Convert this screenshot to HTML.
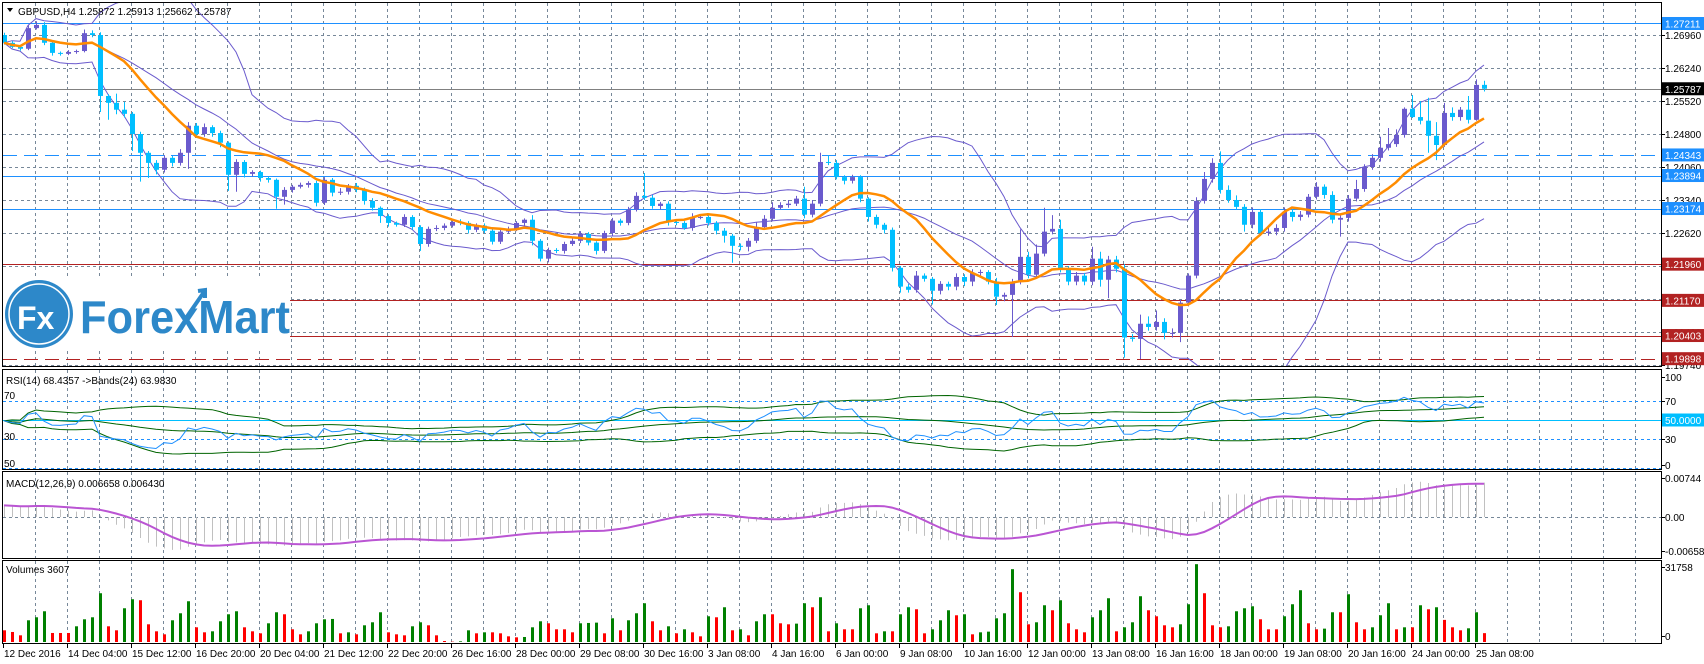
<!DOCTYPE html>
<html><head><meta charset="utf-8"><title>GBPUSD H4</title>
<style>
html,body{margin:0;padding:0;background:#fff;}
svg{display:block;font-family:"Liberation Sans",sans-serif;}
text{font-size:10px;fill:#000;}
</style></head>
<body>
<svg id="chart" xmlns="http://www.w3.org/2000/svg" width="1704" height="664" viewBox="0 0 1704 664">
<defs>
<clipPath id="clipMain"><rect x="3" y="3" width="1658" height="363"/></clipPath>
<clipPath id="clipRsi"><rect x="3" y="370" width="1658" height="99"/></clipPath>
<clipPath id="clipMacd"><rect x="3" y="472" width="1658" height="86"/></clipPath>
<clipPath id="clipVol"><rect x="3" y="561" width="1658" height="82"/></clipPath>
</defs>
</svg>
<script>
const closes=[
1.2679,1.2670,1.2666,1.2711,1.2718,1.2679,1.2657,1.2655,1.2659,1.2661,
1.2700,1.2696,1.2563,1.2548,1.2533,1.2524,1.2480,1.2439,1.2417,1.2402,
1.2428,1.2417,1.2439,1.2498,1.2480,1.2495,1.2482,1.2461,1.2391,1.2419,
1.2393,1.2397,1.2384,1.2380,1.2343,1.2358,1.2365,1.2369,1.2373,1.2330,
1.2380,1.2352,1.2354,1.2367,1.2358,1.2334,1.2319,1.2301,1.2286,1.2282,
1.2299,1.2277,1.2240,1.2273,1.2275,1.2280,1.2288,1.2286,1.2271,1.2280,
1.2269,1.2245,1.2267,1.2273,1.2286,1.2293,1.2247,1.2208,1.2227,1.2225,
1.2240,1.2247,1.2262,1.2243,1.2225,1.2264,1.2291,1.2286,1.2315,1.2345,
1.2341,1.2323,1.2328,1.2288,1.2286,1.2275,1.2299,1.2299,1.2286,1.2269,
1.2258,1.2236,1.2234,1.2247,1.2277,1.2295,1.2319,1.2325,1.2328,1.2339,
1.2304,1.2328,1.2419,1.2417,1.2386,1.2378,1.2386,1.2339,1.2299,1.2282,
1.2271,1.2188,1.2147,1.2140,1.2171,1.2164,1.2138,1.2153,1.2147,1.2168,
1.2158,1.2177,1.2179,1.2158,1.2125,1.2129,1.2158,1.2212,1.2173,1.2219,
1.2267,1.2273,1.2186,1.2158,1.2171,1.2158,1.2208,1.2162,1.2206,1.2186,
1.2036,1.2033,1.2066,1.2059,1.2070,1.2046,1.2046,1.2112,1.2171,1.2334,
1.2382,1.2417,1.2358,1.2336,1.2321,1.2282,1.2310,1.2264,1.2267,1.2275,
1.2310,1.2299,1.2304,1.2343,1.2365,1.2347,1.2293,1.2297,1.2339,1.2360,
1.2408,1.2428,1.2450,1.2458,1.2478,1.2535,1.2517,1.2509,1.2476,1.2456,
1.2526,1.2517,1.2533,1.2511,1.25872,1.25787];
const firstOpen=1.2696;
const wickUp=[
5,4,3,6,8,6,4,3,4,3,8,6,
6,4,20,17,4,5,4,6,
6,4,8,8,6,8,4,5,3,6,
4,4,3,3,3,6,4,5,4,5,
6,4,8,4,6,5,6,3,4,3,
6,4,4,5,6,5,5,6,4,5,
5,3,4,5,4,3,10,4,5,4,
5,8,6,4,3,5,6,4,6,8,
50,6,4,5,6,4,8,6,5,4,
6,4,5,6,10,8,12,6,8,6,
26,8,20,14,6,4,5,4,3,5,
4,5,4,6,10,5,4,6,5,8,
6,8,5,4,8,5,6,60,11,20,
52,30,20,6,8,6,26,15,8,8,
10,8,20,16,25,8,10,6,5,8,
15,10,25,10,10,6,10,6,10,8,
10,5,8,6,10,5,8,6,8,20,
6,8,24,35,12,3,30,35,50,30,
22,12,6,30,12,9];
const wickDn=[
4,3,4,3,3,5,6,4,3,4,3,5,
35,37,10,8,37,63,33,10,
6,8,6,35,8,6,8,10,35,37,
8,6,8,6,26,17,6,4,6,8,
5,8,5,6,5,8,6,15,8,4,
5,6,15,6,5,5,4,5,8,5,
5,6,5,4,5,6,10,6,8,5,
6,4,5,6,8,5,6,6,5,4,
5,6,8,8,5,4,6,5,6,8,
15,37,8,10,5,6,5,4,6,5,
8,6,6,5,5,8,6,8,10,8,
8,8,13,6,6,6,30,8,8,8,
10,10,6,6,18,10,92,6,8,8,
6,6,8,8,8,8,8,15,40,8,
44,6,44,8,8,14,10,20,8,6,
6,8,8,6,6,15,8,6,6,8,
8,10,8,6,6,8,8,37,8,6,
6,6,8,6,6,6,2,8,37,33,
4,8,8,8,2,6];
const volumes=[
4760,4080,2720,8840,10064,12512,3672,3672,3672,6392,
9248,10064,19856,6392,4760,13736,17408,17000,7208,4352,
3128,8840,11696,16592,5984,3944,4352,8432,11288,12512,
5984,4352,3536,7616,12104,11288,5168,3128,4352,7616,
9248,9384,3536,3944,3128,6800,8024,12104,3944,3128,
2720,6392,8024,6800,2720,408,136,272,4760,3536,
3944,3944,3536,2312,1904,2040,5984,8432,7616,5168,
5168,3944,7616,7752,7888,3536,9656,4760,8840,11696,
15776,8432,4760,6392,3536,5168,3944,2312,10472,10064,
14144,4760,5168,2720,8432,11288,11288,7616,7208,7480,
15776,14144,18224,4352,7616,5168,5168,13736,14960,3536,
4352,4352,11288,14144,13328,3536,5168,8840,12920,10880,
11288,3128,3944,4216,9656,11696,29648,20264,7208,8024,
14960,12920,17000,7616,5168,3944,10064,12920,17816,4352,
5984,8024,18632,12920,10472,6800,5984,7208,15368,31688,
19856,6800,5984,6392,12512,13736,14552,9248,5168,5168,
10472,15368,21080,7616,5168,5440,12104,12104,19448,8024,
5168,5984,10880,15776,5168,5984,5984,14960,13328,14144,
9000,5984,4760,5576,12104,3607];
const timeLabels=["12 Dec 2016","14 Dec 04:00","15 Dec 12:00","16 Dec 20:00","20 Dec 04:00","21 Dec 12:00","22 Dec 20:00","26 Dec 16:00","28 Dec 00:00","29 Dec 08:00","30 Dec 16:00","3 Jan 08:00","4 Jan 16:00","6 Jan 00:00","9 Jan 08:00","10 Jan 16:00","12 Jan 00:00","13 Jan 08:00","16 Jan 16:00","18 Jan 00:00","19 Jan 08:00","20 Jan 16:00","24 Jan 00:00","25 Jan 08:00"];
const priceTicks=[1.2696,1.2624,1.2552,1.2480,1.2408,1.2336,1.2264,1.2192,1.2120,1.2048,1.1976];
const priceTickLabels=["1.26960","1.26240","1.25520","1.24800","1.24060","1.23340","1.22620","1.21900","1.21180","1.20460","1.19740"];
const levelPrices=[1.27211,1.25787,1.24343,1.23894,1.23174,1.21960,1.21170,1.20403,1.19898];
const levelLabels=["1.27211","1.25787","1.24343","1.23894","1.23174","1.21960","1.21170","1.20403","1.19898"];
const levelKinds=["blue","black","bluedash","blue","blue","red","red","red","reddash"];
const rsiTicks=[100,70,50,30,0];
const macdTicks=[0.00744,0,-0.006582];
const macdTickLabels=["0.00744","0.00","-0.006582"];
const volTicks=[31758,0];

const NS="http://www.w3.org/2000/svg";
const svg=document.getElementById('chart');
function mk(tag,attrs,parent){const e=document.createElementNS(NS,tag);for(const k in attrs)e.setAttribute(k,attrs[k]);(parent||svg).appendChild(e);return e;}
function grp(clip){const g=mk('g',clip?{'clip-path':'url(#'+clip+')'}:{});return g;}

const X0=3,STEP=8,AXX=1661;
const xb=i=>X0+STEP*i+1;
const py=p=>35+(1.2696-p)/0.0072*33;
const ry=v=>420-(v-50)*0.95;
const my=v=>517-v*5200;
const vy=v=>642-v/31758*78;
const n=closes.length;
const opens=closes.map((c,i)=>i===0?firstOpen:closes[i-1]);
const PIP=0.0001;

const grid=grp(null);


const panes=[[3,366],[370,469],[472,558],[561,643]];
for(let x=35;x<AXX;x+=32){for(const p of panes){const l=mk('line',{x1:x+.5,y1:p[0],x2:x+.5,y2:p[1],stroke:'#778899','stroke-dasharray':'3,3'},grid);

}}
priceTicks.forEach(t=>{const y=Math.round(py(t))+.5;const l=mk('line',{x1:3,y1:y,x2:AXX,y2:y,stroke:'#778899','stroke-dasharray':'3,3'},grid);

});
const mz=mk('line',{x1:3,y1:517.5,x2:AXX,y2:517.5,stroke:'#778899','stroke-dasharray':'3,3'},grid);



const levelColors={blue:'#1e90ff',bluedash:'#1e90ff',black:'#808080',red:'#b22222',reddash:'#b22222'};
const lv=grp('clipMain');
levelPrices.forEach((p,k)=>{const y=Math.round(py(p))+.5;const kind=levelKinds[k];
const l=mk('line',{x1:3,y1:y,x2:AXX,y2:y,stroke:levelColors[kind],'stroke-width':1},lv);
if(kind.indexOf('dash')>=0)l.setAttribute('stroke-dasharray','14,7');

});

const logo=grp(null);


mk('rect',{x:3,y:277,width:287,height:73,fill:'#fff'},logo);
mk('circle',{cx:39,cy:314,r:34,fill:'#2d88c9'},logo);
mk('circle',{cx:39,cy:314,r:30,fill:'none',stroke:'#fff','stroke-width':1.5},logo);
const fx=mk('text',{x:17,y:329,style:'fill:#fff;font-size:32px;font-weight:bold'},logo);fx.textContent='Fx';
const fm=mk('text',{x:80,y:333,textLength:210,lengthAdjust:'spacingAndGlyphs',style:'fill:#2d88c9;font-size:46px;font-weight:bold'},logo);fm.textContent='ForexMart';
mk('path',{d:'M186 318 L204 292 M198 291 L205 290 L205 298',stroke:'#2d88c9','stroke-width':4,fill:'none'},logo);

function sma(arr,p){return arr.map((v,i)=>{const s=Math.max(0,i-p+1);let t=0;for(let j=s;j<=i;j++)t+=arr[j];return t/(i-s+1);});}
function bands(arr,p,d){const m=sma(arr,p);const up=[],lo=[];arr.forEach((v,i)=>{const s=Math.max(0,i-p+1);let q=0;for(let j=s;j<=i;j++)q+=(arr[j]-m[i])**2;const sd=Math.sqrt(q/(i-s+1));up.push(m[i]+d*sd);lo.push(m[i]-d*sd);});return {m,up,lo};}
function poly(vals,yf,g,color,w,name){const pts=vals.map((v,i)=>xb(i)+','+yf(v).toFixed(1)).join(' ');const l=mk('polyline',{points:pts,fill:'none',stroke:color,'stroke-width':w},g);

return l;}
const mainG=grp('clipMain');


const bb=bands(closes,20,2);
poly(bb.up,py,mainG,'#6a5acd',1,'bollinger-upper');
poly(bb.m,py,mainG,'#6a5acd',1,'bollinger-middle');
poly(bb.lo,py,mainG,'#6a5acd',1,'bollinger-lower');

for(let i=0;i<n;i++){const o=opens[i],c=closes[i];const bull=c>=o;const col=bull?'#6a5acd':'#00bfff';
const hi=Math.max(o,c)+wickUp[i]*PIP,lo=Math.min(o,c)-wickDn[i]*PIP;const x=xb(i);
const g=mk('g',{},mainG);


mk('line',{x1:x+.5,y1:py(hi),x2:x+.5,y2:py(lo),stroke:col},g);
const yt=py(Math.max(o,c)),yb=py(Math.min(o,c));
mk('rect',{x:x-2,y:yt,width:5,height:Math.max(1,yb-yt),fill:col},g);}
const ma=sma(closes,13);
poly(ma,py,mainG,'#ff8c00',2.5,'moving-average');

// RSI (Wilder, seeded with assumed prior averages)
const rsi=[];let ag=0.0009,al=0.0008;
for(let i=0;i<n;i++){const d=i===0?closes[0]-firstOpen:closes[i]-closes[i-1];const g=Math.max(d,0),l=Math.max(-d,0);
ag=(ag*13+g)/14;al=(al*13+l)/14;
rsi.push(al===0?100:100-100/(1+ag/al));}
const rg=grp('clipRsi');


[[70,'#1e90ff','3,3'],[30,'#1e90ff','3,3'],[0,'#1e90ff','3,3']].forEach(a=>{const y=Math.round(ry(a[0]))+.5;const l=mk('line',{x1:3,y1:y,x2:AXX,y2:y,stroke:a[1],'stroke-dasharray':a[2]},rg);

});
const l50=mk('line',{x1:3,y1:420.5,x2:AXX,y2:420.5,stroke:'#00bfff'},rg);


const rb=bands(rsi,24,2);
poly(rb.up,ry,rg,'#006400',1,'rsi-band-upper');
poly(rb.m,ry,rg,'#006400',1,'rsi-band-middle');
poly(rb.lo,ry,rg,'#006400',1,'rsi-band-lower');
poly(rsi,ry,rg,'#1e90ff',1,'rsi-line');

// MACD (EMAs seeded assuming a prior uptrend)
function ema(arr,p,seed){const k=2/(p+1);const o=[];let prev=seed;for(let i=0;i<arr.length;i++){prev=arr[i]*k+prev*(1-k);o.push(prev);}return o;}
const e12=ema(closes,12,closes[0]-0.0012),e26=ema(closes,26,closes[0]-0.0035);
const macd=closes.map((c,i)=>e12[i]-e26[i]);
const signal=sma(macd,9);
const mg=grp('clipMacd');


macd.forEach((v,i)=>{const x=xb(i)+.5;const l=mk('line',{x1:x,y1:517,x2:x,y2:my(v),stroke:'#c0c0c0'},mg);

});
poly(signal,my,mg,'#ba55d3',2,'macd-signal');

const vg=grp('clipVol');


for(let i=0;i<n;i++){const v=volumes[i]||0;const up=i>0&&v>(volumes[i-1]||0);const y=vy(v);
const r=mk('rect',{x:xb(i)-1,y:y,width:3,height:642-y,fill:up?'#008000':'#ff0000'},vg);

}

panes.forEach((p,k)=>{const r=mk('rect',{x:2.5,y:p[0]-.5,width:AXX-2,height:p[1]-p[0]+1,fill:'none',stroke:'#000'});

});

function axisLabel(y,txt,name,bg,fg){const g=mk('g',{});


mk('line',{x1:AXX,y1:Math.round(y)+.5,x2:AXX+4,y2:Math.round(y)+.5,stroke:'#000'},g);
if(bg)mk('rect',{x:AXX+1,y:y-6.5,width:42,height:13,fill:bg},g);
const t=mk('text',{x:AXX+4,y:y+4,style:'fill:'+(fg||'#000')},g);t.textContent=txt;}
priceTicks.forEach((p,k)=>axisLabel(py(p),priceTickLabels[k],'price-tick-label',null));
const boxColors={blue:'#1e90ff',bluedash:'#1e90ff',black:'#000',red:'#b22222',reddash:'#b22222'};
levelPrices.forEach((p,k)=>axisLabel(py(p),levelLabels[k],'level-price-tag',boxColors[levelKinds[k]],'#fff'));
rsiTicks.forEach(v=>{if(v===50)axisLabel(ry(v),'50.0000','rsi-level-tag','#00bfff','#fff');else axisLabel(v===100?377:(v===0?465:ry(v)),String(v),'rsi-tick-label',null);});
macdTicks.forEach((v,k)=>axisLabel(k===0?478:(k===2?551:my(v)),macdTickLabels[k],'macd-tick-label',null));
volTicks.forEach(v=>axisLabel(v===0?636:567,String(v),'volume-tick-label',null));

timeLabels.forEach((s,k)=>{const x=3+64*k;const g=mk('g',{});


mk('line',{x1:x+.5,y1:643,x2:x+.5,y2:648,stroke:'#000'},g);
const t=mk('text',{x:x+1,y:657},g);t.textContent=s;});

function title(x,y,txt,name){const t=mk('text',{x:x,y:y});


t.textContent=txt;return t;}
const tri=mk('path',{d:'M7 8 L13 8 L10 12 Z',fill:'#000'});


title(18,15,'GBPUSD,H4  1.25872 1.25913 1.25662 1.25787','chart-title');
title(6,384,'RSI(14) 68.4357  ->Bands(24) 63.9830','rsi-title');
title(4,399,'70','rsi-left-70');
title(4,440,'30','rsi-left-30');
title(4,467,'50','rsi-left-50');
title(6,487,'MACD(12,26,9) 0.006658 0.006430','macd-title');
title(6,573,'Volumes 3607','volume-title');
</script>
</body></html>
